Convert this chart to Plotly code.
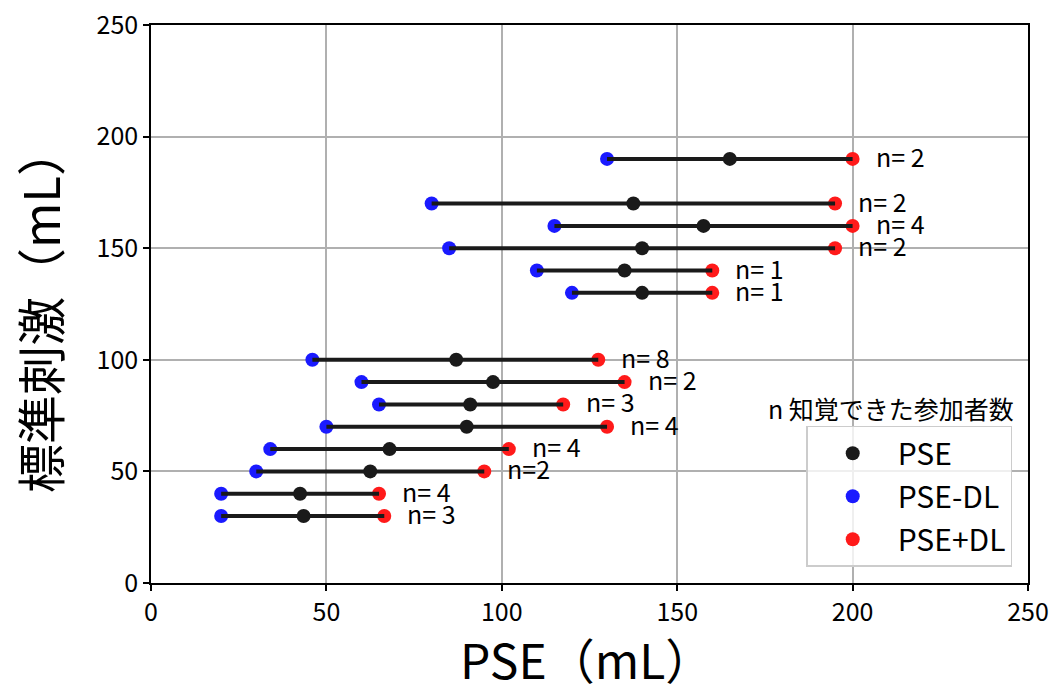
import plotly.graph_objects as go

# data
standard = [190, 170, 160, 150, 140, 130, 100, 90, 80, 70, 60, 50, 40, 30]
pse = [165, 137.5, 157.5, 140, 135, 140, 87, 97.5, 91, 90, 68, 62.5, 42.5, 43.5]
pse_minus_dl = [130, 80, 115, 85, 110, 120, 46, 60, 65, 50, 34, 30, 20, 20]
pse_plus_dl = [200, 195, 200, 195, 160, 160, 127.5, 135, 117.5, 130, 102, 95, 65, 66.5]
n_labels = ["n= 2", "n= 2", "n= 4", "n= 2", "n= 1", "n= 1", "n= 8", "n= 2",
            "n= 3", "n= 4", "n= 4", "n=2", "n= 4", "n= 3"]
tick_vals = [0, 50, 100, 150, 200, 250]

FONT = "Noto Sans CJK JP"
BLACK = "#1a1a1a"
BLUE = "#1a1aff"
RED = "#ff1a1a"

fig = go.Figure()

# blue and red points (under the lines)
fig.add_trace(go.Scatter(x=pse_minus_dl, y=standard, mode="markers",
                         marker=dict(color=BLUE, size=14), name="PSE-DL",
                         legendgroup="b", legendrank=2))
fig.add_trace(go.Scatter(x=pse_plus_dl, y=standard, mode="markers",
                         marker=dict(color=RED, size=14), name="PSE+DL",
                         legendgroup="c", legendrank=3))

# range lines
lx, ly = [], []
for lo, hi, s in zip(pse_minus_dl, pse_plus_dl, standard):
    lx += [lo, hi, None]
    ly += [s, s, None]
fig.add_trace(go.Scatter(x=lx, y=ly, mode="lines",
                         line=dict(color=BLACK, width=4), showlegend=False,
                         hoverinfo="skip"))

fig.add_trace(go.Scatter(x=pse, y=standard, mode="markers",
                         marker=dict(color=BLACK, size=14), name="PSE",
                         legendgroup="a", legendrank=1))

# n labels
for hi, s, t in zip(pse_plus_dl, standard, n_labels):
    fig.add_annotation(x=hi + 6.0, y=s, text=t, showarrow=False,
                       xanchor="left", yanchor="middle", yshift=3,
                       font=dict(family=FONT, size=25, color="black"))

# legend title
fig.add_annotation(xref="paper", yref="paper", x=0.986, y=0.3136,
                   text="n 知覚できた参加者数", showarrow=False,
                   xanchor="right", yanchor="middle",
                   font=dict(family=FONT, size=25, color="black"))

# axis titles
fig.add_annotation(xref="paper", yref="paper", x=0.4966, y=0, yshift=-75,
                   text="PSE（mL）", showarrow=False,
                   xanchor="center", yanchor="middle",
                   font=dict(family=FONT, size=48, color="black"))
fig.add_annotation(xref="paper", yref="paper", x=0, y=0.5, xshift=-113, yshift=-6,
                   text="標準刺激（mL）", showarrow=False, textangle=-90,
                   xanchor="center", yanchor="middle",
                   font=dict(family=FONT, size=49, color="black"))

axis_common = dict(range=[0, 250], tickvals=tick_vals, automargin=False,
                   ticklabeloverflow="allow",
                   showgrid=True, gridcolor="#b0b0b0", gridwidth=1.5,
                   showline=True, linecolor="black", linewidth=1.5, mirror=True,
                   ticks="outside", ticklen=6, tickwidth=1.5, tickcolor="black",
                   zeroline=False,
                   tickfont=dict(family=FONT, size=25, color="black"))

fig.update_xaxes(**axis_common)
fig.update_yaxes(**axis_common)

fig.update_layout(
    width=1055, height=678,
    margin=dict(l=143, r=35, t=17, b=103),
    paper_bgcolor="white", plot_bgcolor="white",
    showlegend=True,
    legend=dict(x=0.982, y=0.029, xanchor="right", yanchor="bottom",
                bgcolor="rgba(255,255,255,0.8)", bordercolor="#cccccc", borderwidth=1.5,
                font=dict(family=FONT, size=30, color="black"),
                tracegroupgap=1, itemwidth=80, traceorder="grouped",
                entrywidth=125, entrywidthmode="pixels"),
)

fig.write_html("out.html")
